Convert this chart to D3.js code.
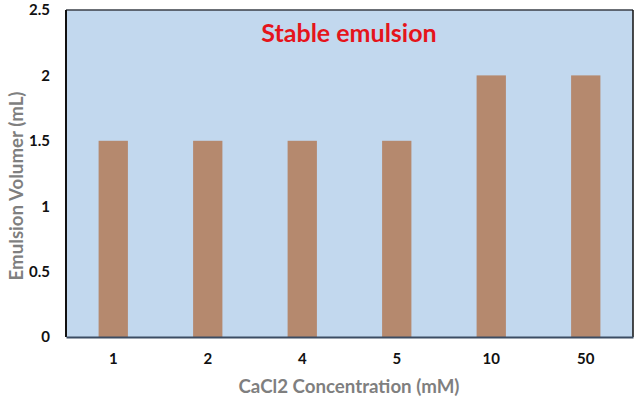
<!DOCTYPE html>
<html><head><meta charset="utf-8">
<script src="https://cdn.jsdelivr.net/npm/d3@7"></script>
<style>body{margin:0;background:#fff;} svg{display:block;}</style>
</head><body>
<svg id="c" width="638" height="401"></svg>
<script>
const categories = ["1","2","4","5","10","50"];
const volumes = [1.5,1.5,1.5,1.5,2,2];
const yTicks = [0,0.5,1,1.5,2,2.5];
const yTickLabels = ["0","0.5","1","1.5","2","2.5"];

const svg = d3.select("#c");
const m = {l:66,r:633,t:10,b:337};
const font = "Lato, 'Open Sans', sans-serif";
const x = d3.scaleBand().domain(categories).range([m.l,m.r]).paddingInner(0.69).paddingOuter(0.345);
const y = d3.scaleLinear().domain([0,2.5]).range([m.b,m.t]);

svg.append("rect").attr("x",m.l).attr("y",m.t).attr("width",m.r-m.l).attr("height",m.b-m.t).attr("fill","#c2d8ee");

svg.selectAll(".bar").data(volumes).join("rect")
 .attr("x",(d,i)=>x(categories[i])).attr("y",d=>y(d))
 .attr("width",x.bandwidth()).attr("height",d=>y(0)-y(d)).attr("fill","#b5896e");

// borders
svg.append("line").attr("x1",m.l).attr("x2",m.r).attr("y1",m.t).attr("y2",m.t).attr("stroke","#3a3f47").attr("stroke-width",1.5);
svg.append("line").attr("x1",m.r).attr("x2",m.r).attr("y1",m.t).attr("y2",m.b).attr("stroke","#111").attr("stroke-width",1.5);
svg.append("line").attr("x1",m.l).attr("x2",m.l).attr("y1",m.t).attr("y2",m.b).attr("stroke","#111").attr("stroke-width",2);

const ya = svg.append("g").attr("transform",`translate(${m.l},0)`)
 .call(d3.axisLeft(y).tickValues(yTicks).tickFormat((d,i)=>yTickLabels[i]).tickSize(0).tickPadding(16));
ya.select(".domain").remove();
ya.selectAll("text").attr("font-family",font).attr("font-weight","bold").attr("font-size",15).attr("fill","#111");

const xa = svg.append("g").attr("transform",`translate(0,${m.b})`)
 .call(d3.axisBottom(x).tickSize(0).tickPadding(16));
xa.select(".domain").attr("stroke","#3b4c63").attr("stroke-width",2);
xa.selectAll("text").attr("font-family",font).attr("font-weight","bold").attr("font-size",15).attr("fill","#111");

svg.append("text").attr("x",349).attr("y",393).attr("text-anchor","middle")
 .attr("font-family",font).attr("font-weight","bold").attr("font-size",18.7).attr("fill","#7f7f7f")
 .text("CaCl2 Concentration (mM)");
svg.append("text").attr("transform",`translate(23,186) rotate(-90)`).attr("text-anchor","middle")
 .attr("font-family",font).attr("font-weight","bold").attr("font-size",18.7).attr("fill","#7f7f7f")
 .text("Emulsion Volumer (mL)");
svg.append("text").attr("x",349).attr("y",42).attr("text-anchor","middle")
 .attr("font-family",font).attr("font-weight","bold").attr("font-size",25).attr("fill","#e5141b")
 .text("Stable emulsion");
</script>
</body></html>
